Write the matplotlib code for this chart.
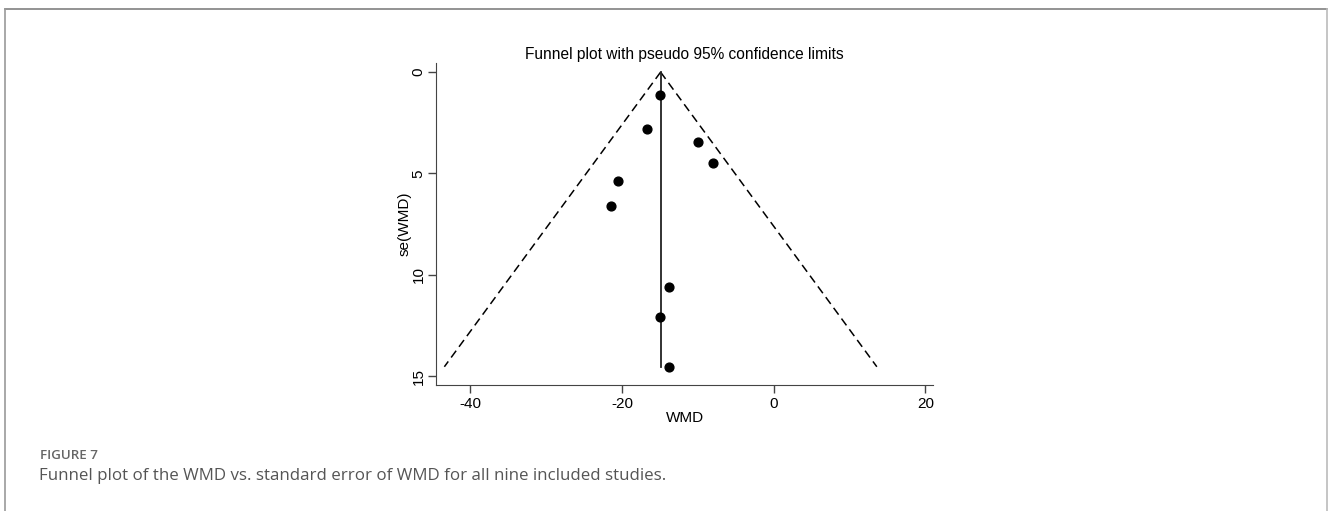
import numpy as np
import matplotlib as mpl
mpl.use('Agg')
import matplotlib.pyplot as plt
import matplotlib.lines as lines

#
#--- study values
#
wmd    = [-15.0, -16.7, -10.0, -8.0, -20.5, -21.4, -13.8, -15.0, -13.8]
se_wmd = [1.11, 2.83, 3.44, 4.49, 5.36, 6.59, 10.62, 12.08, 14.54]
pooled = -14.9

x_ticks = [-40, -20, 0, 20]
y_ticks = [0, 5, 10, 15]

title_text   = 'Funnel plot with pseudo 95% confidence limits'
fig_label    = 'FIGURE 7'
caption_text = 'Funnel plot of the WMD vs. standard error of WMD for all nine included studies.'

#
#--- figure setup
#
mpl.rcParams['font.family'] = ['Liberation Sans', 'DejaVu Sans']
mpl.rcParams['axes.unicode_minus'] = False
W = 1328.
H = 511.
fig = plt.figure(figsize=(W / 100, H / 100), dpi=100)
ax  = fig.add_axes([436 / W, 1 - 385 / H, (933 - 436) / W, (385 - 63) / H])

#
#--- pseudo 95% confidence limits
#
se_max  = max(se_wmd)
se_line = np.array([0.0, se_max])
ax.plot(pooled - 1.96 * se_line, se_line, color='black', lw=1.1, linestyle=(0, (5.5, 3.2)))
ax.plot(pooled + 1.96 * se_line, se_line, color='black', lw=1.1, linestyle=(0, (5.5, 3.2)))
ax.plot([pooled, pooled], [0, se_max], color='#222222', lw=1.3)

#
#--- studies
#
ax.scatter(wmd, se_wmd, s=40, color='black', zorder=3)

#
#--- axes
#
ax.set_xlim(-44.5, 21.0)
ax.set_ylim(15.44, -0.45)
ax.set_xticks(x_ticks)
ax.set_yticks(y_ticks)
ax.tick_params(axis='both', labelsize=11, color='#444444', length=5.5, width=1)
ax.tick_params(axis='x', pad=3)
ax.tick_params(axis='y', pad=2)
for label in ax.get_yticklabels():
    label.set_rotation(90)
    label.set_va('center')
ax.spines['top'].set_visible(False)
ax.spines['right'].set_visible(False)
ax.spines['left'].set_color('#444444')
ax.spines['bottom'].set_color('#444444')
ax.set_xlabel('WMD', fontsize=11, labelpad=0)
ax.set_ylabel('se(WMD)', fontsize=11, labelpad=0)
ax.set_title(title_text, fontsize=11.2, pad=3)

#
#--- caption and frame
#
fig.text(40 / W, 1 - 455 / H, fig_label, fontsize=9.6, color='#666666', fontweight='semibold',
         family=['Open Sans', 'DejaVu Sans'], va='center')
fig.text(39 / W, 1 - 476 / H, caption_text, fontsize=12.2, color='#555555',
         family=['Open Sans', 'DejaVu Sans'], va='center')

fig.add_artist(lines.Line2D([4.5 / W, 1327 / W], [1 - 9.3 / H, 1 - 9.3 / H],
                            color='#808080', lw=1.2))
fig.add_artist(lines.Line2D([4.7 / W, 4.7 / W], [0, 1 - 9.3 / H],
                            color='#999999', lw=1.2))
fig.add_artist(lines.Line2D([1327 / W, 1327 / W], [0, 1 - 9.3 / H],
                            color='#bbbbbb', lw=1.2))

plt.savefig('out.png', dpi=100)
